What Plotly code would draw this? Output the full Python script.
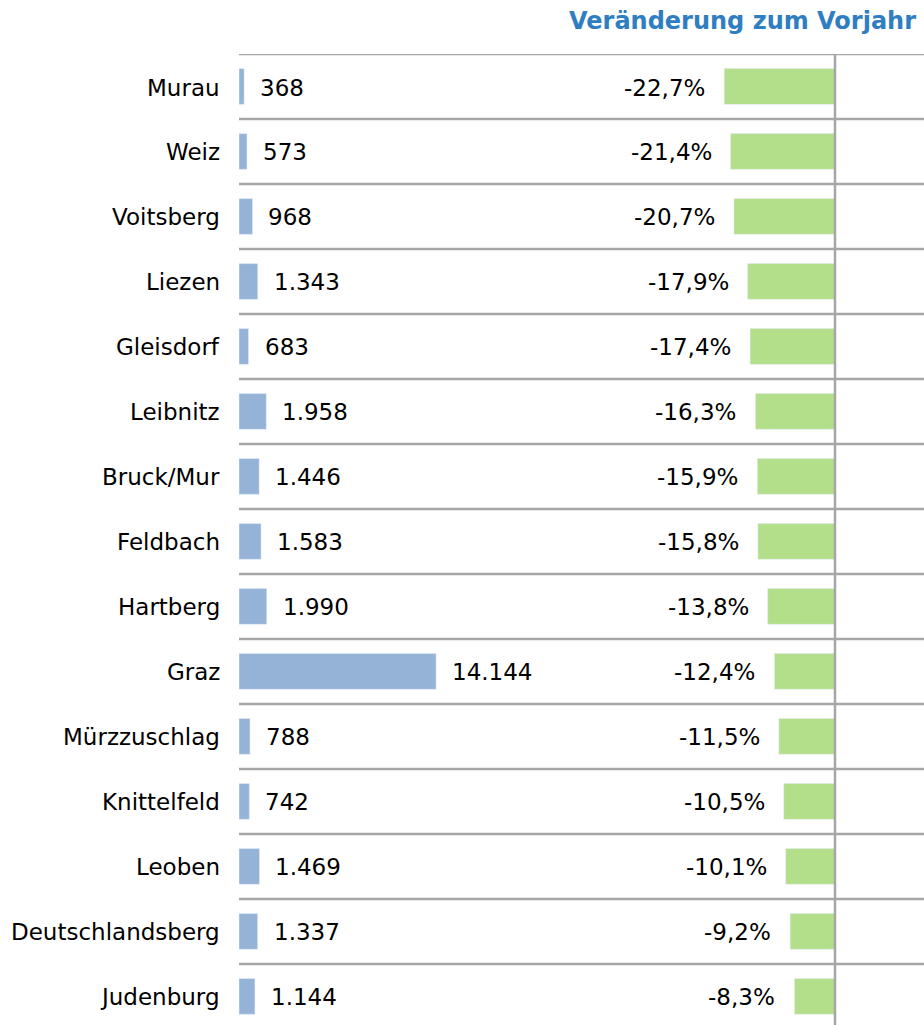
import plotly.graph_objects as go

regions = ["Murau", "Weiz", "Voitsberg", "Liezen", "Gleisdorf", "Leibnitz", "Bruck/Mur",
           "Feldbach", "Hartberg", "Graz", "Mürzzuschlag", "Knittelfeld", "Leoben",
           "Deutschlandsberg", "Judenburg"]
counts = [368, 573, 968, 1343, 683, 1958, 1446, 1583, 1990, 14144, 788, 742, 1469, 1337, 1144]
changes = [-22.7, -21.4, -20.7, -17.9, -17.4, -16.3, -15.9, -15.8, -13.8, -12.4, -11.5,
           -10.5, -10.1, -9.2, -8.3]
title_text = "Veränderung zum Vorjahr"

W, H = 924, 1025
FONT = "DejaVu Sans"
FS = 23
BLUE = "#95B3D7"
GREEN = "#B3DE8A"
GRID = "#A6A6A6"
TITLE_C = "#2F7EC1"

ypos = list(range(len(regions)))

def fmt_count(v):
    return f"{v:,}".replace(",", ".")

def fmt_pct(v):
    return f"{v:.1f}".replace(".", ",") + "%"

fig = go.Figure()
fig.add_trace(go.Bar(x=counts, y=ypos, orientation="h", marker_color=BLUE, width=0.55,
                     xaxis="x", yaxis="y", hoverinfo="skip", showlegend=False))
fig.add_trace(go.Bar(x=changes, y=ypos, orientation="h", marker_color=GREEN, width=0.55,
                     xaxis="x2", yaxis="y", hoverinfo="skip", showlegend=False))

left0 = 239 / W
split = 540 / W
top = 1 - 54 / H

ann = []
for i, (r, c, p) in enumerate(zip(regions, counts, changes)):
    ann.append(dict(x=left0, xref="paper", y=i, yref="y", text=r, showarrow=False,
                    xanchor="right", yanchor="middle", xshift=-17, yshift=-1,
                    font=dict(family=FONT, size=FS, color="black")))
    ann.append(dict(x=c, xref="x", y=i, yref="y", text=fmt_count(c), showarrow=False,
                    xanchor="left", yanchor="middle", xshift=14, yshift=-1,
                    font=dict(family=FONT, size=FS, color="black")))
    ann.append(dict(x=p, xref="x2", y=i, yref="y", text=fmt_pct(p), showarrow=False,
                    xanchor="right", yanchor="middle", xshift=-17, yshift=-1,
                    font=dict(family=FONT, size=FS, color="black")))
ann.append(dict(x=1, xref="paper", y=1 - 21 / H, yref="paper", text=f"<b>{title_text}</b>",
                showarrow=False, xanchor="right", yanchor="middle", xshift=-6,
                font=dict(family=FONT, size=24, color=TITLE_C)))

shapes = []
for i in range(len(regions) + 1):
    shapes.append(dict(type="line", xref="paper", yref="y", x0=left0, x1=1,
                       y0=i - 0.5, y1=i - 0.5, line=dict(color=GRID, width=2.5)))
shapes.append(dict(type="line", xref="x2", yref="paper", x0=0, x1=0, y0=0, y1=top,
                   line=dict(color=GRID, width=2.5)))

fig.update_layout(
    width=W, height=H,
    margin=dict(l=0, r=0, t=0, b=0),
    paper_bgcolor="white", plot_bgcolor="white",
    barmode="overlay",
    xaxis=dict(domain=[left0, split], range=[0, 21600], visible=False, fixedrange=True),
    xaxis2=dict(domain=[split, 1], range=[-60.45, 18.24], visible=False, fixedrange=True),
    yaxis=dict(domain=[0, top], range=[14.44, -0.5], visible=False, fixedrange=True),
    annotations=ann,
    shapes=shapes,
    showlegend=False,
)

fig.write_html("out.html",
               config={"displayModeBar": False},
               post_script="document.body.style.margin='0';document.body.style.overflow='hidden';")
